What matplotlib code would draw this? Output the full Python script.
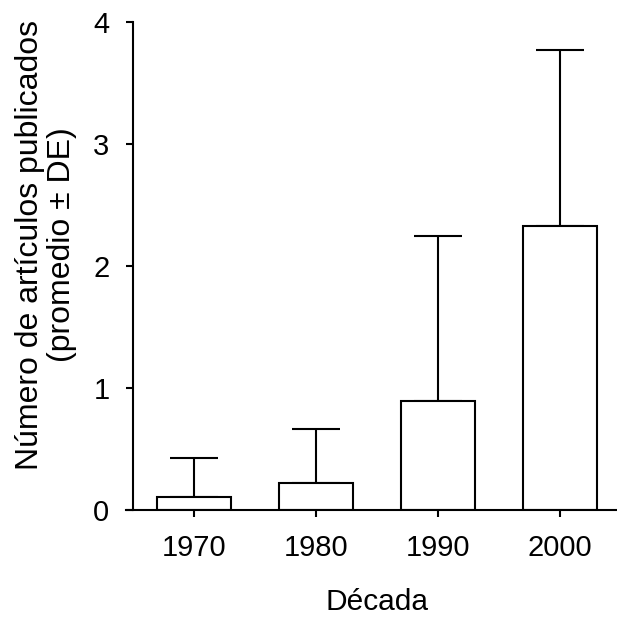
import matplotlib.pyplot as plt

decades = ["1970", "1980", "1990", "2000"]
means = [0.11, 0.22, 0.89, 2.33]
sds = [0.32, 0.44, 1.36, 1.44]

plt.rcParams['font.family'] = ['Liberation Sans', 'DejaVu Sans']

fig = plt.figure(figsize=(6.17, 6.18), dpi=100)
ax = fig.add_axes([133 / 617, 1 - 510 / 618, 488 / 617, 488 / 618])

x = list(range(len(decades)))
ax.bar(x, means, width=0.607, color="white", edgecolor="black", linewidth=1.5, zorder=2)
ax.errorbar(x, means, yerr=[[0] * len(sds), sds], fmt="none", ecolor="black",
            elinewidth=1.5, capsize=17.5, capthick=1.5, zorder=1)

ax.set_xlim(-0.5, 3.5)
ax.set_ylim(0, 4)
ax.set_yticks([0, 1, 2, 3, 4])
ax.set_xticks(x)
ax.set_xticklabels(decades)
ax.spines["top"].set_visible(False)
ax.spines["right"].set_visible(False)
ax.spines["left"].set_linewidth(1.5)
ax.spines["bottom"].set_linewidth(1.5)
ax.spines["bottom"].set_bounds(-0.56, 3.5)
ax.tick_params(axis="both", labelsize=21, width=1.5, length=5, direction="out")
ax.tick_params(axis="y", pad=12)
ax.tick_params(axis="x", pad=12)
ax.set_xlabel("Década", fontsize=21.5, labelpad=19)
ax.set_ylabel("Número de artículos publicados\n(promedio ± DE)", fontsize=23,
              linespacing=1.12)
ax.yaxis.set_label_coords(-0.114, 0.543)

fig.savefig("out.png", dpi=100)
